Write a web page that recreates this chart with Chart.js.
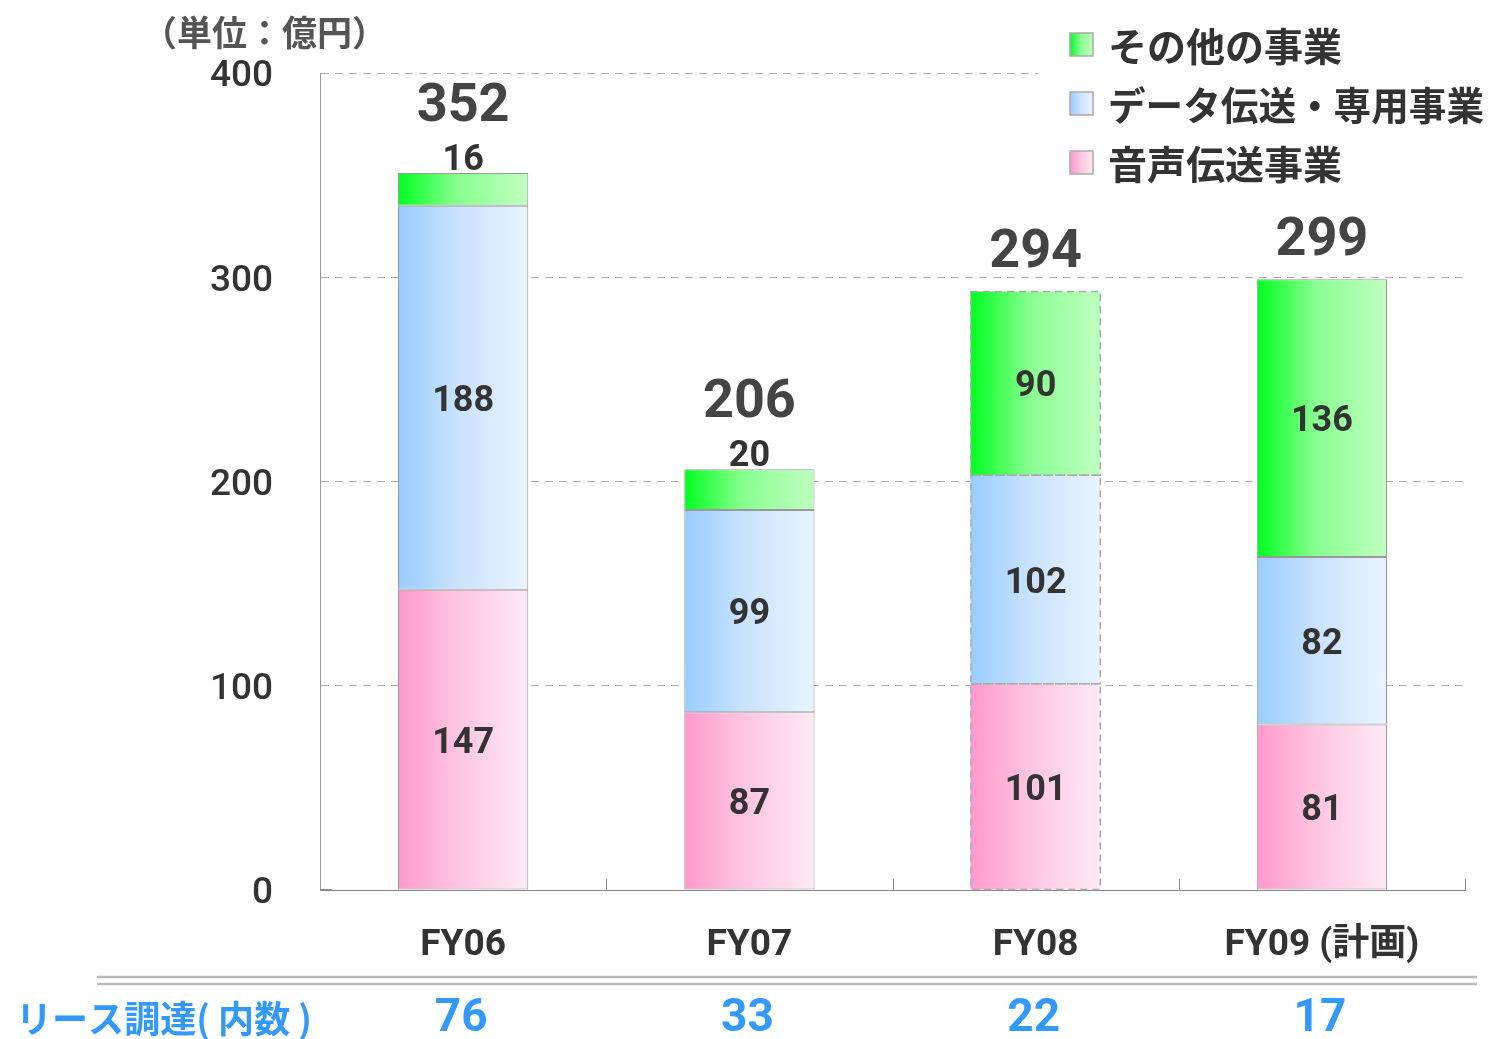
<!DOCTYPE html>
<html><head><meta charset="utf-8">
<script src="https://cdn.jsdelivr.net/npm/chart.js@4/dist/chart.umd.min.js"></script>
<style>html,body{margin:0;padding:0;background:#fff;}#wrap{width:1490px;height:1039px;}</style>
</head><body><div id="wrap"><canvas id="c" width="1490" height="1039"></canvas></div>
<script>
const categories = ['FY06', 'FY07', 'FY08', 'FY09 (計画)'];
const voiceValues = [147, 87, 101, 81];     // 音声伝送事業
const dataValues  = [188, 99, 102, 82];     // データ伝送・専用事業
const otherValues = [16, 20, 90, 136];      // その他の事業
const totalLabels = [352, 206, 294, 299];
const leaseValues = [76, 33, 22, 17];
const seriesNames = ['音声伝送事業', 'データ伝送・専用事業', 'その他の事業'];
const yTicks = [0, 100, 200, 300, 400];
const unitLabel = '（単位：億円）';
const leaseLabel = 'リース調達( 内数 )';

const FONT = "Roboto, 'Noto Sans CJK JP', sans-serif";
const CJK = "'Noto Sans CJK JP', Roboto, sans-serif";
const CAT_PCT = 0.455;
const dashedIndex = 2;

const pinkStops  = [[0, '#ff99cc'], [0.45, '#ffc4e0'], [1, '#ffeaf5']];
const blueStops  = [[0, '#99ccff'], [0.45, '#c8e2ff'], [1, '#eaf4ff']];
const greenStops = [[0, '#00ff20'], [0.45, '#88ff90'], [1, '#c0ffc0']];

function barGrad(chart, i, stops) {
  const area = chart.chartArea;
  const xs = chart.scales && chart.scales.x;
  if (!area || !xs || i === undefined) return stops[0][1];
  const cw = (area.right - area.left) / categories.length;
  const w = cw * CAT_PCT;
  const cx = xs.getPixelForValue(i);
  const g = chart.ctx.createLinearGradient(cx - w / 2, 0, cx + w / 2, 0);
  stops.forEach(s => g.addColorStop(s[0], s[1]));
  return g;
}

function mkDataset(label, data, stops) {
  return {
    label, data,
    backgroundColor: ctx => barGrad(ctx.chart, ctx.dataIndex, stops),
    borderColor: '#999999',
    borderWidth: ctx => (ctx.dataIndex === dashedIndex ? 0 : 1),
    borderSkipped: false,
    categoryPercentage: CAT_PCT,
    barPercentage: 1
  };
}

const decorPlugin = {
  id: 'decor',
  afterDatasetsDraw(chart) {
    const ctx = chart.ctx;
    const area = chart.chartArea;
    const xs = chart.scales.x;
    ctx.save();
    // dashed borders for FY08
    chart.data.datasets.forEach((ds, di) => {
      const el = chart.getDatasetMeta(di).data[dashedIndex];
      if (!el) return;
      const left = el.x - el.width / 2;
      ctx.strokeStyle = '#aaaaaa';
      ctx.lineWidth = 1.5;
      ctx.setLineDash([7, 5]);
      ctx.strokeRect(left + 0.5, el.y, el.width - 1, el.base - el.y);
    });
    ctx.setLineDash([]);
    // x axis tick marks (pointing upward at category boundaries)
    const cw = (area.right - area.left) / categories.length;
    ctx.strokeStyle = '#888888';
    ctx.lineWidth = 1;
    for (let k = 1; k <= categories.length; k++) {
      const x = Math.round(area.left + k * cw) + 0.5;
      ctx.beginPath(); ctx.moveTo(x, area.bottom); ctx.lineTo(x, area.bottom - 11); ctx.stroke();
    }
    ctx.beginPath(); ctx.moveTo(area.left, area.bottom - 0.5); ctx.lineTo(area.left + 12, area.bottom - 0.5); ctx.stroke();
    // segment labels
    ctx.fillStyle = '#333333';
    ctx.textAlign = 'center';
    ctx.textBaseline = 'middle';
    ctx.font = `bold 36px ${FONT}`;
    chart.data.datasets.forEach((ds, di) => {
      chart.getDatasetMeta(di).data.forEach((el, i) => {
        const v = ds.data[i];
        let y = (el.y + el.base) / 2 + 4;
        if (v < 30) y = el.y - 12;
        ctx.fillText(String(v), el.x, y);
      });
    });
    // totals
    const topMeta = chart.getDatasetMeta(chart.data.datasets.length - 1);
    ctx.fillStyle = '#444444';
    ctx.font = `bold 54px ${FONT}`;
    topMeta.data.forEach((el, i) => {
      const small = otherValues[i] < 30;
      const y = el.y - (small ? 66 : 38);
      ctx.fillText(String(totalLabels[i]), el.x, y);
    });
    // legend
    ctx.fillStyle = '#ffffff';
    ctx.fillRect(1038, 12, 452, 185);
    const legendItems = [[seriesNames[2], greenStops], [seriesNames[1], blueStops], [seriesNames[0], pinkStops]];
    legendItems.forEach((it, k) => {
      const cy = 45 + k * 59;
      const bx = 1070, by = cy - 12, bs = 23;
      const g = ctx.createLinearGradient(bx, 0, bx + bs, 0);
      it[1].forEach(s => g.addColorStop(s[0], s[1]));
      ctx.fillStyle = g;
      ctx.fillRect(bx, by, bs, bs);
      ctx.strokeStyle = '#aaaaaa';
      ctx.lineWidth = 1.5;
      ctx.strokeRect(bx, by, bs, bs);
      ctx.fillStyle = '#333333';
      ctx.textAlign = 'left';
      ctx.font = `bold 39px ${CJK}`;
      ctx.fillText(it[0], 1108, cy + 1, 376);
    });
    // unit label
    ctx.fillStyle = '#555555';
    ctx.font = `bold 35px ${CJK}`;
    ctx.textAlign = 'left';
    ctx.fillText(unitLabel, 142, 33);
    // double separator line
    ctx.strokeStyle = '#bbbbbb';
    ctx.lineWidth = 2.5;
    [977, 984].forEach(y => { ctx.beginPath(); ctx.moveTo(97, y); ctx.lineTo(1477, y); ctx.stroke(); });
    // lease row
    ctx.fillStyle = '#3399ff';
    ctx.font = `bold 37px ${CJK}`;
    ctx.textAlign = 'left';
    ctx.fillText(leaseLabel, 16, 1019, 296);
    ctx.font = `bold 46px ${FONT}`;
    ctx.textAlign = 'center';
    leaseValues.forEach((v, i) => {
      ctx.fillText(String(v), xs.getPixelForValue(i) - 2, 1019);
    });
    ctx.restore();
  }
};

new Chart(document.getElementById('c'), {
  type: 'bar',
  data: {
    labels: categories,
    datasets: [
      mkDataset(seriesNames[0], voiceValues, pinkStops),
      mkDataset(seriesNames[1], dataValues, blueStops),
      mkDataset(seriesNames[2], otherValues, greenStops)
    ]
  },
  options: {
    responsive: false,
    animation: false,
    devicePixelRatio: 1,
    layout: { padding: { left: 0, right: 25, top: 73, bottom: 0 } },
    plugins: { legend: { display: false }, tooltip: { enabled: false }, title: { display: false } },
    scales: {
      x: {
        stacked: true,
        grid: { display: false, drawTicks: false },
        border: { display: true, color: '#888888', width: 1 },
        ticks: { color: '#333333', font: { family: FONT, size: 37, weight: 'bold' }, padding: 34, maxRotation: 0 },
        afterFit: s => { s.height = 149; }
      },
      y: {
        stacked: true,
        min: 0, max: 400,
        afterBuildTicks: s => { s.ticks = yTicks.map(v => ({ value: v })); },
        grid: { color: c => (c.tick && c.tick.value === 0 ? 'rgba(0,0,0,0)' : '#aaaaaa'), lineWidth: 1, drawTicks: false },
        border: { display: true, color: '#999999', width: 1, dash: [8, 6] },
        ticks: { color: '#333333', font: { family: FONT, size: 37, weight: '500' }, padding: 47, labelOffset: 4 },
        afterFit: s => { s.width = 320; }
      }
    }
  },
  plugins: [decorPlugin]
});
</script>
</body></html>
